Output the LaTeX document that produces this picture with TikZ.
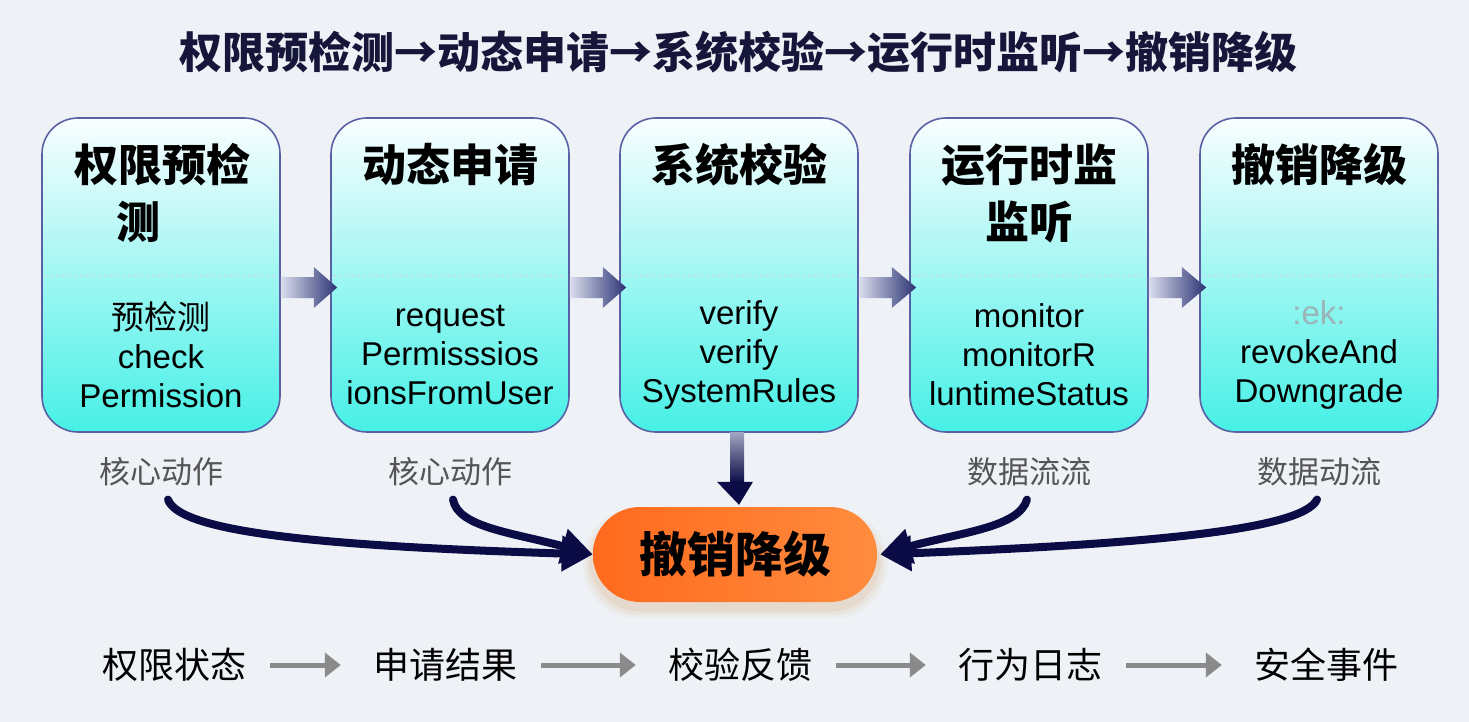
\documentclass[tikz,border=0pt]{standalone}
\usepackage{fontspec}
\setmainfont{Liberation Sans}
\newfontfamily\cjk{Noto Sans CJK SC}
\usetikzlibrary{arrows.meta,calc}
\definecolor{bg}{HTML}{EEF2F6}
\definecolor{boxline}{HTML}{5A60A4}
\definecolor{boxtop}{HTML}{FAFDFF}
\definecolor{boxmid}{HTML}{D2F7F5}
\definecolor{boxbot}{HTML}{46F0E6}
\definecolor{navy}{HTML}{0B0B45}
\definecolor{flowlight}{HTML}{DADEEE}
\definecolor{flowdark}{HTML}{2C3273}
\definecolor{titlecol}{HTML}{16163A}
\definecolor{subgray}{HTML}{555555}
\definecolor{arrgray}{HTML}{8A8A8A}
\definecolor{orangeL}{HTML}{FF6A1E}
\definecolor{orangeR}{HTML}{FF8C3E}
\definecolor{faint}{HTML}{9AB4B8}
\begin{document}
\begin{tikzpicture}[x=1pt,y=-1pt,
  stagebox/.style={draw=boxline, line width=1.6pt, rounded corners=36pt,
    minimum width=238pt, minimum height=314pt, inner sep=0pt,
    top color=boxtop, middle color=boxmid, bottom color=boxbot},
  boxtitle/.style={font=\cjk\bfseries\fontsize{44}{50}\selectfont, text=black, inner sep=0pt},
  bodytext/.style={font=\fontsize{33}{39}\selectfont, align=center, text=black, inner sep=0pt},
  sublabel/.style={font=\cjk\fontsize{31}{36}\selectfont, text=subgray, inner sep=0pt},
  bottomtext/.style={font=\cjk\fontsize{36}{42}\selectfont, text=black, inner sep=0pt},
  curvearrow/.style={draw=navy, line width=8pt, line cap=round, -{Triangle[length=31pt,width=34pt]}},
  grayarrow/.style={draw=arrgray, line width=5pt, -{Triangle[length=16pt,width=24pt]}, shorten <=24pt, shorten >=32pt},
  divider/.style={draw=gray!35, dashed, line width=0.8pt},
  pill/.style={rounded corners=47pt, minimum width=284pt, minimum height=95pt, inner sep=0pt,
    left color=orangeL, right color=orangeR, font=\cjk\bfseries\fontsize{48}{54}\selectfont, text=black}
]
\useasboundingbox (0,0) rectangle (1469,722);
\fill[bg] (0,0) rectangle (1469,722);

% title
\node[font=\cjk\bfseries\fontsize{43}{50}\selectfont, text=titlecol, inner sep=0pt] (title) at (738,52)
  {权限预检测→动态申请→系统校验→运行时监听→撤销降级};

% boxes
\node[stagebox] (b1) at (161,275) {};
\node[stagebox] (b2) at (450,275) {};
\node[stagebox] (b3) at (739,275) {};
\node[stagebox] (b4) at (1029,275) {};
\node[stagebox] (b5) at (1319,275) {};

\foreach \b in {b1,b2,b3,b4,b5}{
  \draw[divider] ($(\b.west)+(3,0)$) -- ($(\b.east)+(-3,0)$);
}

% box titles
\node[boxtitle] (t1) at (162,165) {权限预检};
\node[boxtitle] (t1b) at (138,222) {测};
\node[boxtitle] (t2) at (450,165) {动态申请};
\node[boxtitle] (t3) at (739,165) {系统校验};
\node[boxtitle] (t4) at (1029,165) {运行时监};
\node[boxtitle] (t4b) at (1029,222) {监听};
\node[boxtitle] (t5) at (1319,165) {撤销降级};

% box bodies
\node[bodytext] (d1) at (161,355) {{\cjk 预检测}\\check\\Permission};
\node[bodytext] (d2) at (450,355) {request\\Permisssios\\ionsFromUser};
\node[bodytext] (d3) at (739,355) {verify\\verify\\SystemRules};
\node[bodytext] (d4) at (1029,355) {monitor\\monitorR\\luntimeStatus};
\node[bodytext] (d5) at (1319,355) {\textcolor{faint}{:ek:}\\revokeAnd\\Downgrade};

% flow arrows between boxes
\foreach \a/\b in {b1/b2,b2/b3,b3/b4,b4/b5}{
  \shade[left color=flowlight, right color=flowdark]
    ($(\a.east)+(0,2)$) -- ($(\a.east)+(33,2)$) -- ($(\a.east)+(33,-8)$) --
    ($(\b.west)+(7,12.5)$) -- ($(\a.east)+(33,33)$) -- ($(\a.east)+(33,23)$) --
    ($(\a.east)+(0,23)$) -- cycle;
}

% labels under boxes
\node[sublabel] (l1) at (161,472) {核心动作};
\node[sublabel] (l2) at (450,472) {核心动作};
\node[sublabel] (l4) at (1029,472) {数据流流};
\node[sublabel] (l5) at (1319,472) {数据动流};

% central pill with soft shadow
\foreach \o/\op in {10/0.05,7/0.07,4/0.09}{
  \fill[orange!60!gray, opacity=\op, rounded corners=52pt]
    (593-\o,511-\o+8) rectangle (877+\o,602+\o+6);
}
\node[pill] (core) at (735,554.5) {撤销降级};

% vertical arrow from box 3
\shade[top color=flowdark!45!white, bottom color=navy]
  ($(b3.south)+(-9,0)$) rectangle ($(core.north)+(9,-24)$);
\fill[navy] ($(core.north)+(-18,-25)$) -- ($(core.north)+(18,-25)$) -- ($(core.north)+(4,-2)$) -- cycle;

% curved arrows
\coordinate (inL) at ($(core.west)+(0,0)$);
\coordinate (inR) at ($(core.east)+(3,0)$);
\draw[curvearrow] ($(l1.south)+(7,13)$) .. controls +(12,35) and +(-250,-8) .. (inL);
\draw[curvearrow] ($(l2.south)+(3,13)$) .. controls +(5,28) and +(-80,-22) .. (inL);
\draw[curvearrow] ($(l4.south)+(-2,13)$) .. controls +(-8,28) and +(80,-22) .. (inR);
\draw[curvearrow] ($(l5.south)+(-2,13)$) .. controls +(-15,32) and +(250,-10) .. (inR);

% bottom row
\node[bottomtext] (s1) at (174,665) {权限状态};
\node[bottomtext] (s2) at (445,665) {申请结果};
\node[bottomtext] (s3) at (740,665) {校验反馈};
\node[bottomtext] (s4) at (1030,665) {行为日志};
\node[bottomtext] (s5) at (1326,665) {安全事件};
\draw[grayarrow] (s1.east) -- (s2.west);
\draw[grayarrow] (s2.east) -- (s3.west);
\draw[grayarrow] (s3.east) -- (s4.west);
\draw[grayarrow] (s4.east) -- (s5.west);
\end{tikzpicture}
\end{document}
